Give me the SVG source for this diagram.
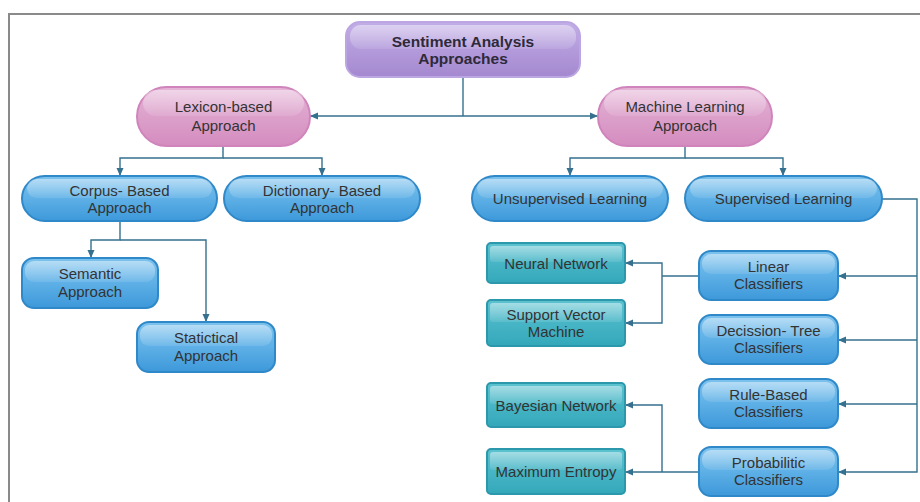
<svg xmlns="http://www.w3.org/2000/svg" width="920" height="502" viewBox="0 0 920 502">
<defs>
<linearGradient id="gPurple" x1="0" y1="0" x2="0" y2="1"><stop offset="0" stop-color="#c2aee6"/><stop offset="1" stop-color="#a488d0"/></linearGradient>
<linearGradient id="gPink" x1="0" y1="0" x2="0" y2="1"><stop offset="0" stop-color="#e4b4d6"/><stop offset="1" stop-color="#d48cbf"/></linearGradient>
<linearGradient id="gBlue" x1="0" y1="0" x2="0" y2="1"><stop offset="0" stop-color="#7cc2ee"/><stop offset="0.5" stop-color="#5eb0e6"/><stop offset="1" stop-color="#3d98da"/></linearGradient>
<linearGradient id="gTeal" x1="0" y1="0" x2="0" y2="1"><stop offset="0" stop-color="#5cc2d0"/><stop offset="1" stop-color="#33a8ba"/></linearGradient>
<linearGradient id="gGloss" x1="0" y1="0" x2="0" y2="1"><stop offset="0" stop-color="#ffffff" stop-opacity="0.45"/><stop offset="1" stop-color="#ffffff" stop-opacity="0.1"/></linearGradient>
<marker id="arr" viewBox="0 0 8 8" refX="8" refY="4" markerWidth="8" markerHeight="8" markerUnits="userSpaceOnUse" orient="auto"><path d="M0,0.5 L8,4 L0,7.5 Z" fill="#35708f"/></marker>
</defs>
<style>
.frame{fill:none;stroke:#8a8a8a;stroke-width:2}
.conn path{fill:none;stroke:#35708f;stroke-width:1.4}
.purple{fill:url(#gPurple);stroke:#bba6e2;stroke-width:2}
.pink{fill:url(#gPink);stroke:#d084bb;stroke-width:2}
.blue{fill:url(#gBlue);stroke:#2f88c8;stroke-width:2}
.teal{fill:url(#gTeal);stroke:#2b98ab;stroke-width:2}
.gloss{fill:url(#gGloss);stroke:none}
text{font-family:"Liberation Sans",Arial,sans-serif;font-size:15px;fill:#333;text-anchor:middle}
text.title{font-weight:bold;font-size:15.5px;fill:#2e2a3a}
</style>
<rect x="0" y="0" width="920" height="502" fill="#ffffff"/>
<path class="frame" d="M9,510 V14 H930"/>

<g class="conn">
<path d="M463,77 V116"/>
<path d="M463,116 H310" marker-end="url(#arr)"/>
<path d="M463,116 H598" marker-end="url(#arr)"/>
<path d="M223,146 V158 H120 V176" marker-end="url(#arr)"/>
<path d="M223,158 H322 V176" marker-end="url(#arr)"/>
<path d="M685,146 V158 H570 V176" marker-end="url(#arr)"/>
<path d="M685,158 H783 V176" marker-end="url(#arr)"/>
<path d="M120,221 V240 H91 V258" marker-end="url(#arr)"/>
<path d="M120,240 H206 V322" marker-end="url(#arr)"/>
<path d="M882,199 H917 V472 H838" marker-end="url(#arr)"/>
<path d="M917,276 H838" marker-end="url(#arr)"/>
<path d="M917,340 H838" marker-end="url(#arr)"/>
<path d="M917,404 H838" marker-end="url(#arr)"/>
<path d="M699,276 H662"/>
<path d="M662,276 V263 H625" marker-end="url(#arr)"/>
<path d="M662,276 V323 H625" marker-end="url(#arr)"/>
<path d="M699,472 H625" marker-end="url(#arr)"/>
<path d="M662,472 V405 H625" marker-end="url(#arr)"/>
</g>

<g id="root">
<rect class="purple" x="346" y="22" width="234" height="55" rx="14"/>
<rect class="gloss" x="350" y="25" width="226" height="24" rx="11"/>
<text class="title" x="463" y="47">Sentiment Analysis</text>
<text class="title" x="463" y="64">Approaches</text>
</g>

<g id="lexicon">
<rect class="pink" x="137" y="87" width="173" height="59" rx="29.5"/>
<rect class="gloss" x="143" y="90" width="161" height="26" rx="13"/>
<text x="223.5" y="112">Lexicon-based</text>
<text x="223.5" y="131">Approach</text>
</g>

<g id="ml">
<rect class="pink" x="598" y="87" width="174" height="59" rx="29.5"/>
<rect class="gloss" x="604" y="90" width="162" height="26" rx="13"/>
<text x="685" y="112">Machine Learning</text>
<text x="685" y="131">Approach</text>
</g>

<g id="corpus">
<rect class="blue" x="22" y="176" width="195" height="45" rx="22.5"/>
<rect class="gloss" x="27" y="179" width="185" height="19" rx="9.5"/>
<text x="119.5" y="196">Corpus- Based</text>
<text x="119.5" y="213">Approach</text>
</g>

<g id="dictionary">
<rect class="blue" x="224" y="176" width="196" height="45" rx="22.5"/>
<rect class="gloss" x="229" y="179" width="186" height="19" rx="9.5"/>
<text x="322" y="196">Dictionary- Based</text>
<text x="322" y="213">Approach</text>
</g>

<g id="unsupervised">
<rect class="blue" x="472" y="176" width="196" height="45" rx="22.5"/>
<rect class="gloss" x="477" y="179" width="186" height="19" rx="9.5"/>
<text x="570" y="204">Unsupervised Learning</text>
</g>

<g id="supervised">
<rect class="blue" x="685" y="176" width="197" height="45" rx="22.5"/>
<rect class="gloss" x="690" y="179" width="187" height="19" rx="9.5"/>
<text x="783.5" y="204">Supervised Learning</text>
</g>

<g id="semantic">
<rect class="blue" x="22" y="258" width="136" height="50" rx="12"/>
<rect class="gloss" x="25" y="261" width="130" height="21" rx="9"/>
<text x="90" y="279">Semantic</text>
<text x="90" y="297">Approach</text>
</g>

<g id="statictical">
<rect class="blue" x="137" y="322" width="138" height="50" rx="12"/>
<rect class="gloss" x="140" y="325" width="132" height="21" rx="9"/>
<text x="206" y="343">Statictical</text>
<text x="206" y="361">Approach</text>
</g>

<g id="neural">
<rect class="teal" x="487" y="243" width="138" height="40" rx="4"/>
<rect class="gloss" x="490" y="246" width="132" height="16" rx="3"/>
<text x="556" y="269">Neural Network</text>
</g>

<g id="svm">
<rect class="teal" x="487" y="300" width="138" height="46" rx="4"/>
<rect class="gloss" x="490" y="303" width="132" height="19" rx="3"/>
<text x="556" y="320">Support Vector</text>
<text x="556" y="337">Machine</text>
</g>

<g id="bayesian">
<rect class="teal" x="487" y="383" width="138" height="44" rx="4"/>
<rect class="gloss" x="490" y="386" width="132" height="18" rx="3"/>
<text x="556" y="411">Bayesian Network</text>
</g>

<g id="maxent">
<rect class="teal" x="487" y="449" width="138" height="45" rx="4"/>
<rect class="gloss" x="490" y="452" width="132" height="18" rx="3"/>
<text x="556" y="477">Maximum Entropy</text>
</g>

<g id="linear">
<rect class="blue" x="699" y="251" width="139" height="49" rx="12"/>
<rect class="gloss" x="702" y="254" width="133" height="20" rx="9"/>
<text x="768.5" y="272">Linear</text>
<text x="768.5" y="289">Classifiers</text>
</g>

<g id="decision">
<rect class="blue" x="699" y="315" width="139" height="49" rx="12"/>
<rect class="gloss" x="702" y="318" width="133" height="20" rx="9"/>
<text x="768.5" y="336">Decission- Tree</text>
<text x="768.5" y="353">Classifiers</text>
</g>

<g id="rule">
<rect class="blue" x="699" y="379" width="139" height="49" rx="12"/>
<rect class="gloss" x="702" y="382" width="133" height="20" rx="9"/>
<text x="768.5" y="400">Rule-Based</text>
<text x="768.5" y="417">Classifiers</text>
</g>

<g id="probabilistic">
<rect class="blue" x="699" y="447" width="139" height="49" rx="12"/>
<rect class="gloss" x="702" y="450" width="133" height="20" rx="9"/>
<text x="768.5" y="468">Probabilitic</text>
<text x="768.5" y="485">Classifiers</text>
</g>
</svg>
